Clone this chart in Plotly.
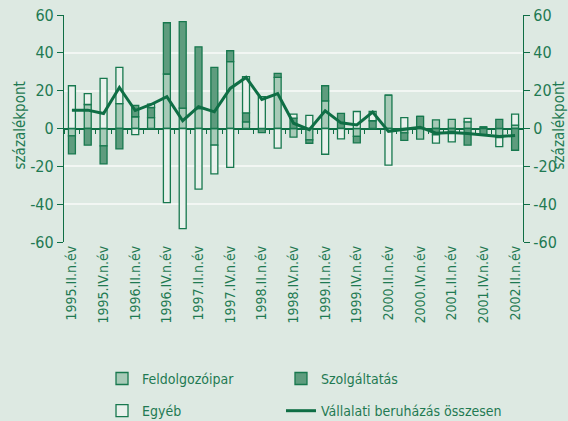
import plotly.graph_objects as go

quarters = [
    "1995.II", "1995.III", "1995.IV",
    "1996.I", "1996.II", "1996.III", "1996.IV",
    "1997.I", "1997.II", "1997.III", "1997.IV",
    "1998.I", "1998.II", "1998.III", "1998.IV",
    "1999.I", "1999.II", "1999.III", "1999.IV",
    "2000.I", "2000.II", "2000.III", "2000.IV",
    "2001.I", "2001.II", "2001.III", "2001.IV",
    "2002.I", "2002.II",
]
categories = [q + ".n.év" for q in quarters]

feldolgozoipar = [-3.9, 12.7, -9.2, 13.1, 6.2, 5.8, 28.8, 10.8, 10.5, -8.8,
                  35.3, 3.5, 0.0, 27.0, -4.6, -6.0, 14.6, 0.0, -4.2, 0.0,
                  17.6, -2.3, -5.6, 4.6, 4.8, 3.5, 0.8, -4.8, 1.8]
szolgaltatas = [-9.5, -8.8, -9.5, -10.8, 6.0, 5.3, 27.1, 45.7, 32.7, 32.3,
                5.8, 4.8, -2.2, 2.1, 5.5, -1.8, 8.0, 8.0, -3.4, 4.1,
                0.0, -4.0, 6.4, -3.3, -2.1, -8.8, -3.3, 4.8, -11.5]
egyeb = [22.6, 5.7, 26.5, 19.2, -3.2, 1.8, -39.2, -52.9, -32.1, -15.2,
         -20.6, 19.1, 16.8, -10.4, 2.1, 6.9, -13.6, -5.5, 9.0, 4.9,
         -19.4, 5.8, 0.0, -4.4, -5.0, 1.8, 0.0, -4.8, 5.8]
osszesen = [9.7, 9.7, 7.9, 21.7, 9.5, 12.7, 16.8, 4.1, 11.5, 8.8,
            21.2, 27.0, 15.4, 18.5, 2.8, -0.6, 9.4, 3.0, 1.9, 8.7,
            -1.5, -0.5, 0.7, -2.5, -2.1, -2.6, -3.4, -4.2, -3.7]

tick_labels = categories[::2]
y_ticks = [-60, -40, -20, 0, 20, 40, 60]
y_tick_text = ["-60", "-40", "-20", "0", "20", "40", "60"]
y_title = "százalékpont"

BG = "#dde9e2"
DARK = "#0f6e45"
OUTLINE = "#17784e"
TEXT = "#1f7a52"
LIGHT_FILL = "#a7cab7"
DARK_FILL = "#5e9c7e"
WHITE_FILL = "#e9f1ec"
FONT = "DejaVu Sans Condensed, Liberation Sans Narrow, sans-serif"

fig = go.Figure()
bar_common = dict(x=categories, width=0.44)
fig.add_trace(go.Bar(name="Feldolgozóipar", y=feldolgozoipar,
                     legend="legend", legendgroup="a",
                     marker=dict(color=LIGHT_FILL, line=dict(color=OUTLINE, width=1.3)),
                     **bar_common))
fig.add_trace(go.Bar(name="Szolgáltatás", y=szolgaltatas,
                     legend="legend2", legendgroup="b",
                     marker=dict(color=DARK_FILL, line=dict(color=OUTLINE, width=1.3)),
                     **bar_common))
fig.add_trace(go.Bar(name="Egyéb", y=egyeb,
                     legend="legend", legendgroup="c",
                     marker=dict(color=WHITE_FILL, line=dict(color=OUTLINE, width=1.3)),
                     **bar_common))
fig.add_trace(go.Scatter(name="Vállalati beruházás összesen", x=categories, y=osszesen,
                         mode="lines", line=dict(color=DARK, width=3),
                         legend="legend2", legendgroup="d",
                         xaxis="x2", yaxis="y2"))

legend_common = dict(orientation="v", xref="container", yref="container",
                     y=0.138, xanchor="left", yanchor="top",
                     tracegroupgap=11, traceorder="grouped",
                     font=dict(family=FONT, size=14, color=TEXT),
                     bgcolor="rgba(0,0,0,0)")

axis_title_font = dict(family=FONT, size=15, color=TEXT)
ytick_font = dict(family=FONT, size=16, color=TEXT)

fig.update_layout(
    width=568, height=421,
    paper_bgcolor=BG, plot_bgcolor=BG,
    margin=dict(l=64, r=45, t=15, b=179, autoexpand=False),
    barmode="relative",
    font=dict(family=FONT, color=TEXT, size=15),
    showlegend=True,
    legend=dict(x=0.1796, **legend_common),
    legend2=dict(x=0.4947, **legend_common),
    xaxis=dict(type="category", categoryorder="array", categoryarray=categories,
               tickmode="array", tickvals=tick_labels, ticktext=tick_labels,
               tickangle=-90, ticks="", showgrid=False, showline=False, automargin=False,
               tickfont=dict(family=FONT, size=14, color=TEXT)),
    xaxis2=dict(type="category", categoryorder="array", categoryarray=categories,
                matches="x", overlaying="x", anchor="free", position=0.5,
                side="bottom", showticklabels=False, showgrid=False, showline=False,
                tickmode="array", tickvals=categories, tickson="boundaries",
                ticks="outside", ticklen=4, tickwidth=1, tickcolor=DARK, automargin=False),
    yaxis=dict(range=[-60, 60], tickmode="array", tickvals=y_ticks, ticktext=y_tick_text,
               showgrid=True, gridcolor="#f2f6f3", gridwidth=1.5,
               zeroline=True, zerolinecolor=DARK, zerolinewidth=1.5,
               showline=True, linecolor=DARK, linewidth=1.2,
               ticks="outside", ticklen=6, tickcolor=DARK, automargin=False,
               tickfont=ytick_font),
    yaxis2=dict(range=[-60, 60], overlaying="y", side="right", anchor="x2",
                tickmode="array", tickvals=y_ticks, ticktext=y_tick_text,
                showgrid=False, zeroline=False,
                showline=True, linecolor=DARK, linewidth=1.2,
                ticks="outside", ticklen=6, tickcolor=DARK, automargin=False,
                tickfont=ytick_font),
    annotations=[
        dict(text=y_title, xref="paper", yref="paper", x=0, y=0.5, xshift=-45,
             yshift=3, textangle=-90, showarrow=False, xanchor="center",
             yanchor="middle", font=axis_title_font),
        dict(text=y_title, xref="paper", yref="paper", x=1, y=0.5, xshift=35,
             yshift=3, textangle=-90, showarrow=False, xanchor="center",
             yanchor="middle", font=axis_title_font),
    ],
)

fig.write_html(
    "out.html",
    config={"displayModeBar": False},
    post_script="document.body.style.margin='0';document.body.style.background='" + BG + "';",
)
